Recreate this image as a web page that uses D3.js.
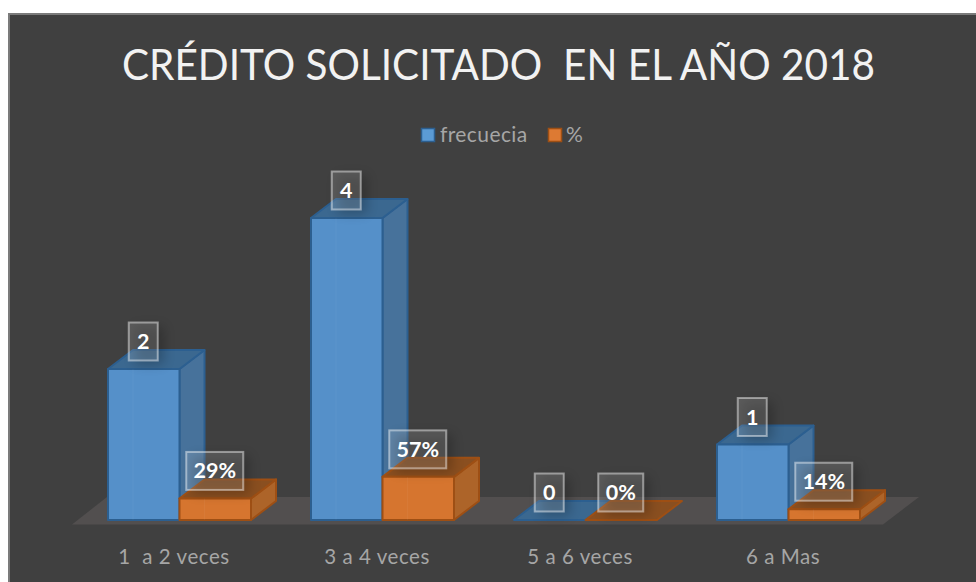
<!DOCTYPE html>
<html><head><meta charset="utf-8">
<script src="https://cdn.jsdelivr.net/npm/d3@7"></script>
<style>html,body{margin:0;padding:0;background:#fff;overflow:hidden}svg{display:block}</style>
</head><body><svg id="c" width="976" height="582"></svg>
<script>
const titleText = "CRÉDITO SOLICITADO  EN EL AÑO 2018";
const categories = ["1  a 2 veces", "3 a 4 veces", "5 a 6 veces", "6 a Mas"];
const seriesNames = ["frecuecia", "%"];
const frecuencia = [2, 4, 0, 1];
const porcentaje = [0.29, 0.57, 0, 0.14];
const porcentajeEscala = [2/7, 4/7, 0, 1/7];

const FONT = "Lato, 'Open Sans', sans-serif";
const svg = d3.select("#c");
const defs = svg.append("defs");
defs.append("filter").attr("id","blur").attr("x","-40%").attr("y","-40%").attr("width","180%").attr("height","180%")
  .append("feGaussianBlur").attr("stdDeviation",6);

const pal = [
 {front:"#5590c9", side:"#47729b", top:"#3b6890", stroke:"#2c5f90"},
 {front:"#d6752f", side:"#ad6429", top:"#8a4f20", stroke:"#9e4f14"}
];

svg.append("rect").attr("x",9).attr("y",14).attr("width",968).attr("height",569)
  .attr("fill","#404040").attr("stroke","#7b7b7b").attr("stroke-width",2);

svg.append("text").attr("x",498.5).attr("y",80).attr("text-anchor","middle")
  .attr("xml:space","preserve").style("white-space","pre")
  .attr("textLength",753).attr("lengthAdjust","spacingAndGlyphs")
  .attr("font-family",FONT).attr("font-size",43).attr("fill","#f2f2f2").text(titleText);

// legend
const lg = svg.append("g");
[[421,seriesNames[0],440],[548,seriesNames[1],566]].forEach(([sx,t,tx],i)=>{
  lg.append("rect").attr("x",sx+.5).attr("y",128.5).attr("width",13).attr("height",13)
    .attr("fill",i?"#dd7a33":"#5b9bd5").attr("stroke",pal[i].stroke).attr("stroke-width",1.5);
  lg.append("text").attr("x",tx).attr("y",142).attr("font-family",FONT).attr("font-size",21)
    .attr("letter-spacing",i?0:0.4).attr("fill","#a6a6a6").text(t);
});

// scales
const x0 = d3.scaleBand().domain(categories).range([78,890]).paddingInner(60/203).paddingOuter(30/203);
const x1 = d3.scaleBand().domain(seriesNames).range([0,x0.bandwidth()]);
const y = d3.scaleLinear().domain([0,4]).range([520,218]);
const DX = 25, DY = -19;

// floor
const fl = [[72,524.5],[883,524.5],[919,497],[107,497]];
svg.append("polygon").attr("points",fl.join(" ")).attr("fill","#524f4f");

const rows = [];
categories.forEach((c,i)=>{
  rows.push({c,s:0,v:frecuencia[i],h:frecuencia[i],label:String(frecuencia[i])});
  rows.push({c,s:1,v:porcentaje[i],h:porcentajeEscala[i],label:d3.format(".0%")(porcentaje[i])});
});

const bars = svg.append("g").selectAll("g").data(rows).join("g");
bars.each(function(d){
  const g = d3.select(this), p = pal[d.s];
  const xa = x0(d.c)+x1(seriesNames[d.s]), xb = xa+x1.bandwidth(), yt = y(d.h), yb = y(0);
  const st = sel => sel.attr("stroke",p.stroke).attr("stroke-width",2).attr("stroke-linejoin","round");
  if (d.h>0){
    g.append("polygon").attr("points",[[xb,yt],[xb+DX,yt+DY],[xb+DX,yb+DY],[xb,yb]].join(" ")).attr("fill",p.side).call(st);
  }
  g.append("polygon").attr("points",[[xa,yt],[xb,yt],[xb+DX,yt+DY],[xa+DX,yt+DY]].join(" ")).attr("fill",p.top).call(st);
  if (d.h>0){
    g.append("rect").attr("x",xa).attr("y",yt).attr("width",xb-xa).attr("height",yb-yt).attr("fill",p.front).call(st);
    g.append("path").attr("d",`M${xa+DX},${yb}V${yt}`).attr("stroke","#ffffff").attr("stroke-opacity",.04).attr("fill","none");
  }
});

// data labels
const labels = svg.append("g").selectAll("g").data(rows).join("g");
labels.each(function(d){
  const g = d3.select(this);
  const cx = x0(d.c)+x1(seriesNames[d.s])+x1.bandwidth()/2-0.5, cy = y(d.h)-27.5;
  const w = d.label.length===1?29:(d.label.length===2?45:57), h = 38;
  g.append("rect").attr("x",cx-w/2+6).attr("y",cy-h/2+4).attr("width",w).attr("height",h)
    .attr("fill","#000").attr("opacity",.22).attr("filter","url(#blur)");
  g.append("rect").attr("x",cx-w/2).attr("y",cy-h/2).attr("width",w).attr("height",h)
    .attr("fill","#fff").attr("fill-opacity",.14).attr("stroke","#fff").attr("stroke-opacity",.45).attr("stroke-width",2);
  g.append("text").attr("x",cx).attr("y",cy+7.5).attr("text-anchor","middle").attr("font-family",FONT)
    .attr("font-weight",700).attr("font-size",21.5).attr("fill","#fff").text(d.label);
});

// category axis
const ax = svg.append("g").attr("transform","translate(-5.5,543)")
  .call(d3.axisBottom(x0).tickSize(0).tickPadding(6));
ax.select(".domain").remove();
ax.selectAll("text").attr("font-family",FONT).attr("font-size",20.5).attr("fill","#a6a6a6")
  .attr("letter-spacing",.55).attr("xml:space","preserve").style("white-space","pre");
</script></body></html>
